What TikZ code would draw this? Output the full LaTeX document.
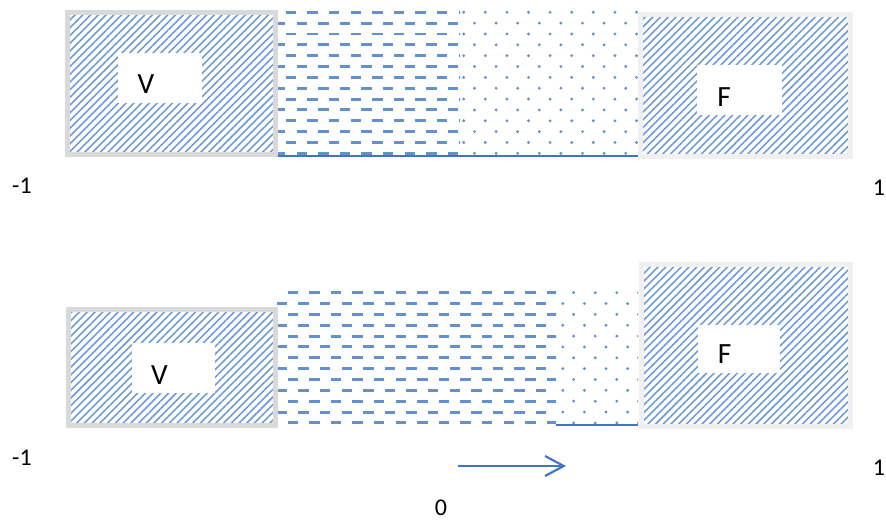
\documentclass[tikz,border=0pt]{standalone}
\usepackage{fontspec}
\setmainfont{Carlito}
\usetikzlibrary{patterns.meta,arrows.meta}
\definecolor{boxgray}{RGB}{217,217,217}
\definecolor{boxlight}{RGB}{240,240,240}
\definecolor{hatchblue}{RGB}{112,156,216}
\definecolor{dashblue}{RGB}{100,144,206}
\definecolor{lineblue}{RGB}{68,114,196}

\begin{document}
\begin{tikzpicture}[x=0.75pt,y=-0.75pt,
    hatchbox/.style={line width=3.75pt, pattern={Lines[angle=45,distance=4.1pt,line width=1.2pt]}, pattern color=hatchblue},
    dashline/.style={dashblue, line width=2.2pt},
    dotfill/.style={fill=dashblue},
    letter/.style={font=\fontsize{22}{26}\selectfont, inner sep=0pt},
    number/.style={font=\fontsize{18}{22}\selectfont, inner sep=0pt},
    flowarrow/.style={lineblue, line width=1.6pt, -{Straight Barb[length=14pt,width=15pt]}}]
    \useasboundingbox (0,0) rectangle (886,523);

    % top: liquid (dashes) and gas (dots)
    \begin{scope}
        \clip (278,8) rectangle (460,158);
        \foreach \j in {0,...,13}
            \foreach \k in {12,...,21} {
                \pgfmathsetmacro\cx{10.1+21.6*\k+10.8*mod(\j,2)}
                \draw[dashline] (\cx-5.2,12.3+10.85*\j) -- (\cx+5.2,12.3+10.85*\j);
            }
    \end{scope}
    \begin{scope}
        \clip (460,8) rectangle (638,158);
        \foreach \j in {0,...,13}
            \foreach \k in {20,...,30} {
                \pgfmathsetmacro\cx{10.1+21.6*\k+10.8*mod(\j,2)}
                \fill[dotfill] (\cx,12.3+10.85*\j) circle (1.6);
            }
    \end{scope}
    \draw[lineblue, line width=1.4pt] (278,156) -- (638,156);

    % top: boxes
    \draw[hatchbox, draw=boxgray] (67.5,12.5) rectangle (275.5,154.5);
    \draw[hatchbox, draw=boxlight] (640.5,14.5) rectangle (850.5,156.5);
    \fill[white] (118,53) rectangle (202,103);
    \fill[white] (697,65) rectangle (782,115);
    \node[letter] (vtop) at (146,84) {V};
    \node[letter] (ftop) at (724,97) {F};

    % bottom: liquid and gas
    \begin{scope}
        \clip (276,287) rectangle (556,428);
        \foreach \j in {0,...,12}
            \foreach \k in {12,...,26} {
                \pgfmathsetmacro\cx{12+21.6*\k+10.8*mod(\j,2)}
                \draw[dashline] (\cx-5.2,292.7+10.85*\j) -- (\cx+5.2,292.7+10.85*\j);
            }
    \end{scope}
    \begin{scope}
        \clip (556,284) rectangle (638,428);
        \foreach \j in {0,...,12}
            \foreach \k in {24,...,30} {
                \pgfmathsetmacro\cx{12+21.6*\k+10.8*mod(\j,2)}
                \fill[dotfill] (\cx,292.7+10.85*\j) circle (1.6);
            }
    \end{scope}
    \draw[lineblue, line width=1.4pt] (556,425) -- (638,425);

    % bottom: boxes
    \draw[hatchbox, draw=boxgray] (68.5,309.5) rectangle (275.5,425.5);
    \draw[hatchbox, draw=boxlight] (641.5,264.5) rectangle (850.5,426.5);
    \fill[white] (132,343) rectangle (215,393);
    \fill[white] (698,325) rectangle (780,373);
    \node[letter] (vbot) at (159.5,375) {V};
    \node[letter] (fbot) at (724.5,354) {F};

    % scale
    \node[number] (lefttop) at (22,186) {-1};
    \node[number] (righttop) at (879,188) {1};
    \node[number] (leftbot) at (22,458) {-1};
    \node[number] (rightbot) at (879,468) {1};
    \node[number] (zero) at (441,508) {0};
    \coordinate (flowstart) at (458,466);
    \coordinate (flowend) at (566,466);
    \draw[flowarrow] (flowstart) -- (flowend);
\end{tikzpicture}
\end{document}
